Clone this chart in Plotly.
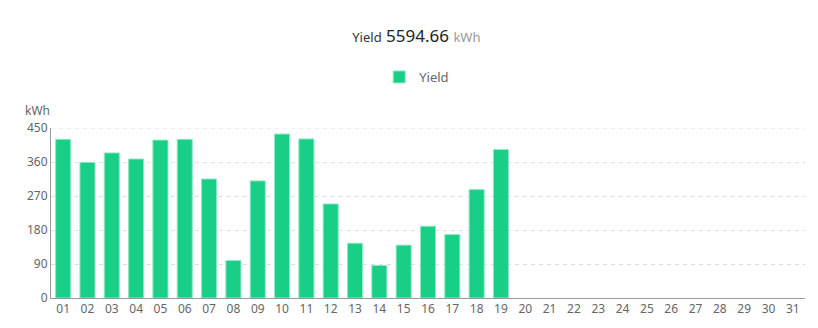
import plotly.graph_objects as go

days = [f"{i:02d}" for i in range(1, 32)]
yield_vals = [420, 359, 384, 368, 418, 420, 315, 99, 310, 434, 421, 249,
              145, 86, 140, 190, 168, 287, 393]
total = "5594.66"
unit = "kWh"
y_ticks = [0, 90, 180, 270, 360, 450]

fig = go.Figure()
fig.add_trace(go.Bar(
    x=days[:len(yield_vals)], y=yield_vals, name="Yield",
    marker=dict(color="#19cf87", line=dict(color="#8fe8c3", width=1)),
    width=0.62,
))
fig.update_layout(
    width=818, height=328,
    margin=dict(l=51, r=13, t=128, b=30),
    paper_bgcolor="white", plot_bgcolor="white",
    font=dict(family="Noto Sans, Open Sans, sans-serif", color="#666", size=12),
    title=dict(
        text=(f"<span style='font-size:13px;color:#333'>Yield</span> "
              f"<span style='font-size:17px;color:#222'>{total}</span> "
              f"<span style='font-size:13px;color:#999'>{unit}</span>"),
        x=0.509, xanchor="center", y=0.89, yanchor="middle",
    ),
    showlegend=True,
    legend=dict(orientation="h", x=0.485, xanchor="center", y=1.3, yanchor="middle",
                font=dict(size=13, color="#666"), itemwidth=30),
    xaxis=dict(type="category", categoryorder="array", categoryarray=days,
               range=[-0.5, 30.5], showline=True, linecolor="#999", linewidth=1,
               showgrid=False, ticks="", tickfont=dict(size=12, color="#666")),
    yaxis=dict(range=[0, 450], tickvals=y_ticks, showline=True, linecolor="#999",
               linewidth=1, showgrid=True, gridcolor="#dddddd", griddash="4px,4px",
               zeroline=False, ticks="", tickfont=dict(size=12, color="#666")),
    bargap=0.38,
)
fig.add_shape(type="line", xref="paper", yref="y", x0=0, x1=1,
              y0=y_ticks[-1], y1=y_ticks[-1], layer="below",
              line=dict(color="#dddddd", width=1, dash="4px,4px"))
fig.add_annotation(text=unit, xref="paper", yref="paper", x=-0.018, y=1.0,
                   yshift=18, showarrow=False, xanchor="center", yanchor="middle",
                   font=dict(size=12, color="#666"))
fig.write_html("out.html")
